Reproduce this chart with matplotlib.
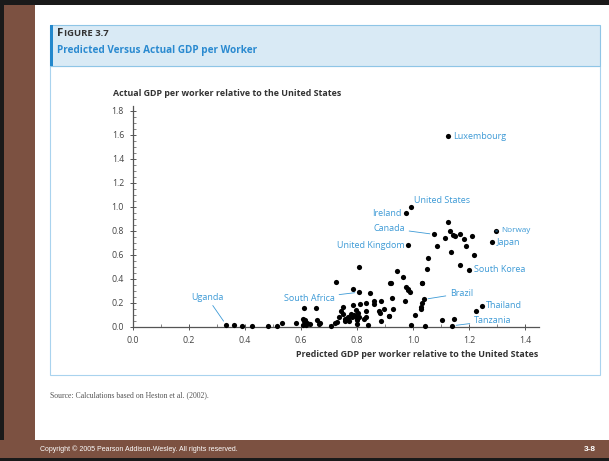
import numpy as np
import matplotlib
matplotlib.use("Agg")
import matplotlib.pyplot as plt
from matplotlib.patches import Rectangle
from matplotlib.ticker import MultipleLocator

W, H = 609, 461

# predicted (x) vs actual (y) GDP per worker, relative to US
pred = [0.332, 0.362, 0.388, 0.424, 0.481, 0.513, 0.532, 0.583, 0.606, 0.61,
        0.655, 0.612, 0.618, 0.623, 0.632, 0.657, 0.663, 0.726, 0.707, 0.721,
        0.727, 0.736, 0.75, 0.751, 0.758, 0.77, 0.769, 0.778, 0.785, 0.80,
        0.808, 0.799, 0.808, 0.944, 0.787, 0.807, 0.845, 0.862, 0.886, 0.92,
        0.926, 0.971, 0.975, 0.981, 1.033, 0.812, 0.833, 0.879, 0.896, 0.915,
        1.006, 0.743, 0.769, 0.781, 0.789, 0.804, 0.826, 0.84, 0.756, 0.887,
        0.668, 0.614, 0.608, 1.039, 1.033, 1.027, 1.029, 1.246, 1.224, 1.104,
        1.145, 1.139, 0.993, 1.042, 0.862, 0.93, 0.796, 0.881, 0.831, 0.798,
        0.832, 0.913, 1.124, 0.993, 0.974, 0.983, 1.075, 1.125, 1.132, 1.114,
        1.143, 1.151, 1.168, 1.183, 1.21, 1.295, 1.283, 1.085, 1.135, 1.189,
        1.053, 1.219, 1.05, 1.169, 1.201, 0.965, 0.918, 1.031, 0.982, 0.99]
actual = [0.02, 0.02, 0.01, 0.01, 0.01, 0.005, 0.03, 0.03, 0.07, 0.16,
          0.155, 0.047, 0.02, 0.033, 0.027, 0.06, 0.023, 0.375, 0.01, 0.033,
          0.044, 0.08, 0.106, 0.17, 0.064, 0.048, 0.086, 0.108, 0.183, 0.058,
          0.086, 0.023, 0.50, 0.47, 0.32, 0.29, 0.283, 0.22, 0.22, 0.37,
          0.24, 0.22, 0.33, 0.31, 0.364, 0.19, 0.20, 0.13, 0.15, 0.09,
          0.10, 0.133, 0.075, 0.083, 0.098, 0.12, 0.064, 0.017, 0.048, 0.05,
          0.036, 0.058, 0.017, 0.23, 0.20, 0.17, 0.15, 0.175, 0.133, 0.06,
          0.07, 0.01, 0.017, 0.006, 0.19, 0.15, 0.14, 0.12, 0.136, 0.083,
          0.08, 0.09, 1.59, 0.997, 0.948, 0.68, 0.772, 0.875, 0.80, 0.744,
          0.77, 0.758, 0.778, 0.73, 0.756, 0.80, 0.706, 0.678, 0.628, 0.678,
          0.578, 0.60, 0.48, 0.517, 0.475, 0.414, 0.37, 0.37, 0.32, 0.29]

# labelled countries: name, predicted, actual
lab_names = ["Luxembourg", "United States", "Ireland", "Canada", "United Kingdom",
             "Norway", "Japan", "South Korea", "Brazil", "Thailand", "Tanzania",
             "South Africa", "Uganda"]
lab_x = [1.124, 0.993, 0.974, 1.075, 0.983, 1.295, 1.283, 1.201, 1.039, 1.246,
         1.139, 0.807, 0.332]
lab_y = [1.59, 0.997, 0.948, 0.772, 0.68, 0.80, 0.706, 0.475, 0.23, 0.175,
         0.01, 0.29, 0.02]
# text offsets in pixels, alignment, leader line
lab_off = [(5, 0, "left", False), (3, 7, "left", False), (-4, 0, "right", False),
           (-29, 6, "right", True), (-4, 0, "right", False), (6, 0, "left", True),
           (4, 0, "left", False), (5, 0, "left", False), (26, 6, "left", True),
           (4, 0, "left", False), (22, 5, "left", True), (-24, -6, "right", True),
           (-19, 23, "center", True)]

blue = "#3d9ad6"
brown = "#7c5141"
plt.rcParams['font.family'] = ['Open Sans', 'DejaVu Sans']

fig = plt.figure(figsize=(W / 100, H / 100), dpi=100)
fig.patch.set_facecolor("white")


def fx(x):
    return x / W


def fy(y):
    return 1 - y / H


def rect(x0, y0, x1, y1, **kw):
    fig.add_artist(Rectangle((fx(x0), fy(y1)), fx(x1) - fx(x0), fy(y0) - fy(y1),
                             transform=fig.transFigure, zorder=-5, **kw))


# slide frame
rect(0, 0, W, 5, color="#1a1a1a", lw=0)
rect(0, 0, 4, H, color="#1a1a1a", lw=0)
rect(4, 5, 35, 440, color=brown, lw=0)
rect(0, 440, W, 458, color=brown, lw=0)
rect(0, 458, W, H, color="#1a1a1a", lw=0)

# figure box
rect(50, 66, 600, 375, facecolor="white", edgecolor="#a9d3ee", lw=0.8)
rect(50, 25, 600, 66, facecolor="#d9eaf5", edgecolor="#8ec5e6", lw=0.8)
rect(50, 25, 53, 66, color="#2488cc", lw=0)

fig.text(fx(57), fy(33), "F", fontsize=8.2, fontweight="bold", color="#333333",
         va="center", ha="left")
fig.text(fx(63.5), fy(33.5), "IGURE 3.7", fontsize=6.8, fontweight="bold",
         color="#333333", va="center", ha="left")
fig.text(fx(57), fy(50), "Predicted Versus Actual GDP per Worker", fontsize=7.2,
         fontweight="bold", color="#2a8ad0", va="center", ha="left")

fig.text(fx(50), fy(395), "Source: Calculations based on Heston et al. (2002).",
         fontsize=5.6, family="Liberation Serif", color="#555555", va="center")
fig.text(fx(40), fy(449), "Copyright \u00a9 2005 Pearson Addison-Wesley. All rights reserved.",
         fontsize=5, family="Liberation Sans", color="white", va="center")
fig.text(fx(596), fy(449), "3-8", fontsize=6, family="Liberation Sans",
         fontweight="bold", color="white", va="center", ha="right")

# plot area
x_lo, x_hi = 0.0, 1.45
y_lo, y_hi = 0.0, 1.84
left_px, right_px = 133, 539
bot_px = 327
top_px = bot_px - 120 * y_hi
ax = fig.add_axes([fx(left_px), fy(bot_px), fx(right_px) - fx(left_px), fy(top_px) - fy(bot_px)])
ax.set_zorder(5)
ax.set_xlim(x_lo, x_hi)
ax.set_ylim(y_lo, y_hi)
ax.patch.set_alpha(0)
for s in ["top", "right"]:
    ax.spines[s].set_visible(False)
for s in ["left", "bottom"]:
    ax.spines[s].set_color("#555555")
    ax.spines[s].set_linewidth(0.9)

ax.scatter(pred, actual, s=14, color="black", zorder=3, clip_on=False, linewidths=0)

ax.xaxis.set_minor_locator(MultipleLocator(0.1))
ax.yaxis.set_minor_locator(MultipleLocator(0.05))
ax.set_xticks(np.arange(0, 1.41, 0.2))
ax.set_yticks(np.arange(0, 1.81, 0.2))
ax.xaxis.set_major_formatter(plt.FuncFormatter(lambda v, p: f"{v:.1f}"))
ax.yaxis.set_major_formatter(plt.FuncFormatter(lambda v, p: f"{v:.1f}"))
ax.tick_params(which="major", direction="inout", length=5, width=0.7, color="#555555",
               labelsize=6.3, labelcolor="#444444", pad=4)
ax.tick_params(which="minor", direction="in", length=2.5, width=0.5, color="#555555")

fig.text(fx(113), fy(93), "Actual GDP per worker relative to the United States",
         fontsize=6.4, fontweight="bold", color="#333333", va="center", ha="left")
fig.text(fx(538), fy(354), "Predicted GDP per worker relative to the United States",
         fontsize=6.4, fontweight="bold", color="#333333", va="center", ha="right")

for name, x, y, (dx, dy, ha, lead) in zip(lab_names, lab_x, lab_y, lab_off):
    fs = 5.9 if name == "Norway" else 6.5
    kw = {}
    if lead:
        kw["arrowprops"] = dict(arrowstyle="-", color=blue, lw=0.6, shrinkA=1, shrinkB=3)
    va = "bottom" if name == "Uganda" else "center"
    ax.annotate(name, (x, y), xytext=(dx, dy), textcoords="offset pixels",
                ha=ha, va=va, fontsize=fs, color=blue, annotation_clip=False, **kw)

fig.savefig("out.png", dpi=100)
